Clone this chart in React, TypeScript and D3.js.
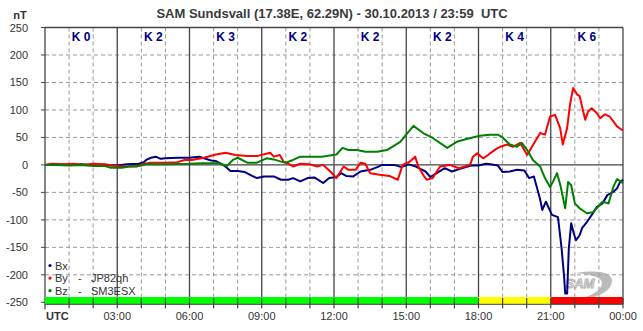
import * as d3 from "d3";
import React from "react";

// time in hours (UTC), value in nT
const bxData: [number, number][] = [
  [0, 0], [0.5, 1], [1.0, 0], [1.5, 1], [2.0, 0], [2.5, -1], [3.0, -1], [3.4, 1], [3.9, 2],
  [4.1, 5], [4.2, 9], [4.4, 13], [4.6, 15], [4.8, 11], [5.0, 12], [5.5, 13], [6.0, 13],
  [6.4, 15], [6.6, 12], [6.9, 8], [7.1, 7], [7.4, 0], [7.55, -5], [7.7, -11], [8.0, -11],
  [8.3, -13], [8.6, -20], [8.8, -24], [9.1, -21], [9.5, -21], [9.8, -27], [10.1, -27],
  [10.3, -24], [10.6, -30], [10.9, -24], [11.2, -23], [11.55, -33], [11.8, -24], [12.1, -22],
  [12.3, -15], [12.5, -20], [12.8, -21], [13.1, -12], [13.5, -9], [13.8, -4], [14.0, 0],
  [14.5, 0], [14.8, -4], [15.1, 1], [15.4, -3], [15.8, -12], [16.0, -22], [16.3, -14],
  [16.6, -6], [16.9, -12], [17.3, -6], [17.7, -1], [18.0, -1], [18.3, 2], [18.5, 1],
  [18.8, -1], [19.0, -13], [19.3, -12], [19.6, -9], [19.9, -10], [20.1, -24], [20.3, -21],
  [20.4, -37], [20.55, -61], [20.65, -82], [20.8, -67], [21.05, -91], [21.3, -95],
  [21.45, -152], [21.55, -201], [21.6, -234], [21.68, -234], [21.75, -152], [21.85, -106],
  [21.95, -124], [22.05, -137], [22.2, -128], [22.3, -115], [22.5, -104], [22.75, -88],
  [22.9, -77], [23.15, -70], [23.35, -55], [23.6, -49], [23.75, -43], [23.88, -31], [24, -27],
];

const byData: [number, number][] = [
  [0, 0], [0.3, 2], [0.8, 1], [1.2, 2], [1.6, 0], [2.0, 2], [2.5, 1], [2.8, -1], [3.2, -3],
  [3.8, -3], [4.1, 2], [4.4, 4], [5.0, 4], [5.5, 5], [5.8, 9], [6.1, 9], [6.6, 13], [7.1, 19],
  [7.5, 22], [7.9, 18], [8.4, 16], [8.8, 16], [9.35, 22], [9.5, 15], [9.75, 18], [9.9, 6],
  [10.2, 0], [10.3, -3], [10.6, 2], [11.0, 1], [11.3, -3], [11.55, 0], [11.85, -12],
  [12.1, -24], [12.4, -3], [12.6, -9], [12.9, -9], [13.1, 4], [13.3, 2], [13.5, -15],
  [13.9, -18], [14.3, -20], [14.65, -27], [14.85, 0], [15.15, 6], [15.37, 15], [15.5, -3],
  [15.7, -18], [15.85, -27], [16.1, -24], [16.4, -3], [16.8, 0], [17.2, -6], [17.65, 0],
  [17.77, 15], [17.94, 21], [18.19, 12], [18.4, 18], [18.48, 21], [18.77, 30], [18.9, 33],
  [19.19, 37], [19.43, 33], [19.73, 40], [20.02, 18], [20.22, 33], [20.56, 58], [20.76, 55],
  [20.97, 88], [21.18, 91], [21.39, 67], [21.5, 37], [21.68, 67], [21.8, 110], [21.93, 140],
  [22.1, 128], [22.2, 125], [22.43, 82], [22.55, 97], [22.7, 103], [22.9, 95], [23.05, 85],
  [23.25, 92], [23.45, 88], [23.75, 70], [23.95, 64], [24, 63],
];

const bzData: [number, number][] = [
  [0, 0], [0.5, 0], [1.0, -1], [1.5, 0], [2.0, -2], [2.5, -2], [2.7, -5], [3.2, -5], [3.5, -3],
  [3.9, -2], [4.2, 1], [5.0, 1], [6.0, 2], [6.5, 3], [7.2, 3], [7.55, -2], [7.8, 9], [8.0, 13],
  [8.4, 4], [8.8, 4], [9.2, 12], [9.5, 10], [9.8, 6], [10.0, 4], [10.3, 9], [10.6, 15],
  [11.0, 15], [11.5, 15], [12.1, 19], [12.35, 31], [12.6, 27], [12.95, 27], [13.3, 24],
  [13.8, 24], [14.2, 27], [14.75, 42], [15.05, 58], [15.3, 71], [15.7, 58], [16.1, 49],
  [16.7, 31], [17.1, 42], [17.5, 47], [18.06, 53], [18.48, 55], [18.8, 55], [19.0, 50],
  [19.3, 37], [19.6, 33], [19.8, 40], [20.02, 27], [20.26, 9], [20.56, -3], [20.76, -24],
  [20.97, -40], [21.1, -30], [21.26, -15], [21.4, -37], [21.6, -79], [21.72, -31], [21.85, -37],
  [22.0, -70], [22.2, -79], [22.5, -88], [22.75, -86], [22.95, -77], [23.15, -67], [23.4, -70],
  [23.6, -40], [23.75, -26], [24, -33],
];

const kIndex = ["K 0", "K 2", "K 3", "K 2", "K 2", "K 2", "K 4", "K 6"];
const hourLabels = ["03:00", "06:00", "09:00", "12:00", "15:00", "18:00", "21:00", "00:00"];
const yTicks = [250, 200, 150, 100, 50, 0, -50, -100, -150, -200, -250];
// activity bar: [from hour, to hour, colour]
const activity: [number, number, string][] = [
  [0, 18, "#00ff00"],
  [18, 21, "#ffff00"],
  [21, 24, "#ff0000"],
];
const legend = [
  { name: "Bx", call: "", color: "#000080" },
  { name: "By", call: "JP82qh", color: "#ff0000" },
  { name: "Bz", call: "SM3ESX", color: "#008000" },
];

const W = 643;
const H = 331;
const left = 45;
const right = 623;
const top = 27.5;
const bottom = 302.3;
const font = "'Liberation Sans', Arial, sans-serif";
const txt = "#333";

export default function App() {
  const x = d3.scaleLinear().domain([0, 24]).range([left, right]);
  const y = d3.scaleLinear().domain([-250, 250]).range([bottom, top]);
  const line = d3
    .line<[number, number]>()
    .x((d) => x(d[0]))
    .y((d) => y(d[1]));

  const hours = d3.range(1, 24);
  const barTop = 297;
  const barBottom = 304.3;

  return (
    <svg
      width={W}
      height={H}
      style={{ position: "fixed", left: 0, top: 0, background: "#fff", fontFamily: font }}
    >
      <text x={332} y={18} textAnchor="middle" fontSize={13} fontWeight="bold" fill="#3a3a3a">
        SAM Sundsvall (17.38E, 62.29N) - 30.10.2013 / 23:59{"\u00a0\u00a0"}UTC
      </text>
      <text x={20} y={19} textAnchor="middle" fontSize={11} fontWeight="bold" fill={txt}>
        nT
      </text>

      {/* horizontal dashed grid */}
      {yTicks.filter((v) => v !== 0 && v !== 250 && v !== -250).map((v) => (
        <line key={"h" + v} x1={left} x2={right} y1={y(v)} y2={y(v)} stroke="#999" strokeDasharray="4,3" />
      ))}
      {/* vertical grid: dashed every hour, solid every 3 h */}
      {hours.map((h) =>
        h % 3 === 0 ? (
          <line key={"v" + h} x1={x(h)} x2={x(h)} y1={top} y2={barTop} stroke="#444" strokeWidth={1.3} />
        ) : (
          <line key={"v" + h} x1={x(h)} x2={x(h)} y1={top} y2={barTop} stroke="#999" strokeDasharray="4,3" />
        )
      )}
      <line x1={left} x2={right} y1={y(0)} y2={y(0)} stroke="#444" strokeWidth={1.3} />

      {/* frame */}
      <line x1={left} x2={right} y1={top} y2={top} stroke="#444" strokeWidth={1.3} />
      <line x1={right} x2={right} y1={top} y2={barBottom} stroke="#444" strokeWidth={1.3} />
      <line x1={left} x2={left} y1={top} y2={barBottom + 5} stroke="#444" strokeWidth={1.3} />

      {/* y axis ticks and labels */}
      {yTicks.map((v) => (
        <g key={"t" + v}>
          <line x1={41} x2={left} y1={y(v)} y2={y(v)} stroke="#444" />
          <text x={28} y={y(v) + 4} textAnchor="end" fontSize={11} fill={txt}>
            {v}
          </text>
        </g>
      ))}

      {/* K indices */}
      {kIndex.map((k, i) => (
        <text key={"k" + i} x={x(i * 3 + 1.5)} y={41} textAnchor="middle" fontSize={12} fontWeight="bold" fill="#000080">
          {k}
        </text>
      ))}

      {/* SAM logo */}
      <g opacity={0.8}>
        <path
          d="M 575 273 Q 610 268 612 280 Q 612 296 578 300 Q 603 292 602 282 Q 600 275 575 273 Z"
          fill="#aaa"
        />
        <text x={580} y={288} textAnchor="middle" fontSize={13} fontStyle="italic" fontWeight="bold" fill="#ddd" stroke="#999" strokeWidth={0.8}>
          SAM
        </text>
      </g>

      {/* series */}
      <path d={line(bxData) || ""} fill="none" stroke="#000080" strokeWidth={2} strokeLinejoin="round" />
      <path d={line(byData) || ""} fill="none" stroke="#ff0000" strokeWidth={2} strokeLinejoin="round" />
      <path d={line(bzData) || ""} fill="none" stroke="#008000" strokeWidth={2} strokeLinejoin="round" />

      {/* legend */}
      {legend.map((l, i) => (
        <g key={l.name} transform={`translate(0, ${265.5 + i * 12.6})`}>
          <circle cx={50} cy={0} r={1.6} fill={l.color} />
          <text x={55} y={4} fontSize={11} fill={txt}>
            {l.name}
          </text>
          {l.call && (
            <>
              <text x={78} y={4} fontSize={11} fill={txt}>-</text>
              <text x={91} y={4} fontSize={11} fill={txt}>{l.call}</text>
            </>
          )}
        </g>
      ))}

      {/* activity bar */}
      {activity.map(([a, b, c]) => (
        <rect key={c} x={x(a)} y={barTop} width={x(b) - x(a)} height={barBottom - barTop} fill={c} />
      ))}
      <line x1={left} x2={right} y1={barBottom} y2={barBottom} stroke="#444" />
      {hours.concat([24]).map((h) => (
        <line key={"bt" + h} x1={x(h)} x2={x(h)} y1={barTop + 1} y2={barBottom + 4} stroke="#444" strokeWidth={1.2} />
      ))}

      {/* x labels */}
      <text x={left + 1} y={320} fontSize={11} fontWeight="bold" fill={txt}>
        UTC
      </text>
      {hourLabels.map((l, i) => (
        <text key={l} x={x((i + 1) * 3)} y={320} textAnchor="middle" fontSize={11} fill={txt}>
          {l}
        </text>
      ))}
    </svg>
  );
}
